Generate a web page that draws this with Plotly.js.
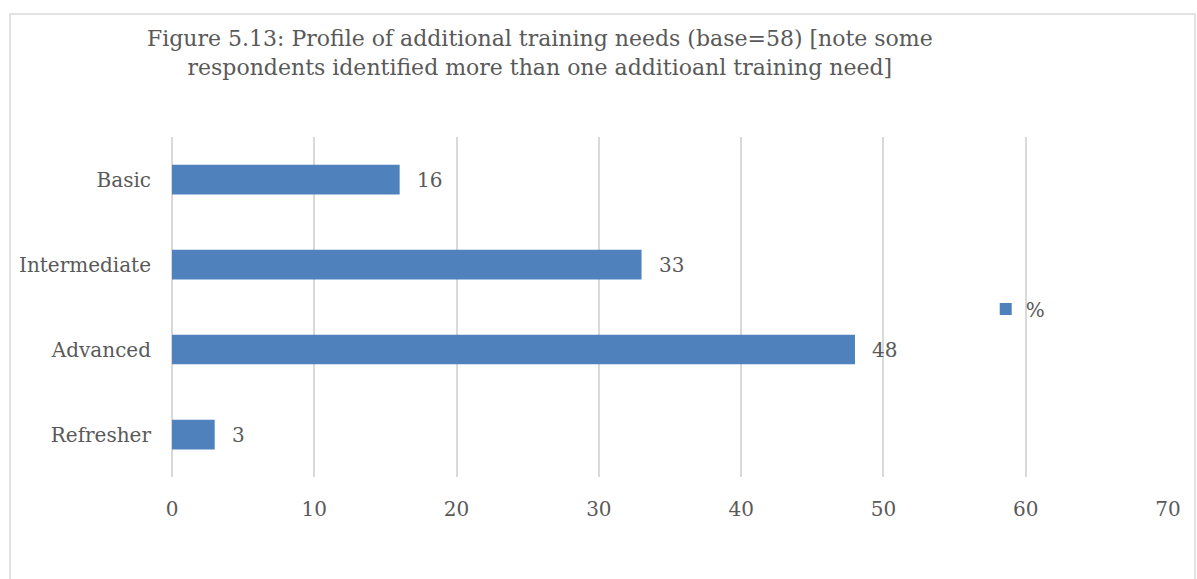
<!DOCTYPE html>
<html>
<head>
<meta charset="utf-8">
<script src="https://cdn.plot.ly/plotly-3.0.1.min.js"></script>
<style>html,body{margin:0;padding:0;background:#fff;}#chart{width:1197px;height:579px;}</style>
</head>
<body>
<div id="chart"></div>
<script>
const categories = ["Basic", "Intermediate", "Advanced", "Refresher"];
const values = [16, 33, 48, 3];
const seriesName = "%";
const xTicks = [0, 10, 20, 30, 40, 50, 60, 70];
const titleText = "Figure 5.13: Profile of additional training needs (base=58) [note some<br>respondents identified more than one additioanl training need]";

const font = "DejaVu Serif, Liberation Serif, serif";
const textColor = "#595959";

const trace = {
  type: "bar",
  orientation: "h",
  y: categories,
  x: values,
  name: seriesName,
  marker: {color: "#4F81BD"},
  hoverinfo: "x+y"
};

const annotations = categories.map((c, i) => ({
  x: values[i], y: c, xref: "x", yref: "y",
  text: String(values[i]), showarrow: false,
  xanchor: "left", yanchor: "middle", xshift: 15,
  font: {family: font, size: 20, color: textColor}
}));

const layout = {
  width: 1197, height: 579,
  margin: {l: 172, r: 29, t: 137, b: 102},
  paper_bgcolor: "#fff", plot_bgcolor: "#fff",
  font: {family: font, size: 20, color: textColor},
  title: {
    text: titleText,
    font: {family: font, size: 22, color: textColor},
    xref: "container", yref: "container",
    x: 0.451, xanchor: "center",
    y: 0.92, yanchor: "top"
  },
  bargap: 0.65,
  xaxis: {
    range: [0, 70],
    tickvals: xTicks,
    showgrid: true, gridcolor: "#d9d9d9", gridwidth: 1.5,
    zeroline: true, zerolinecolor: "#d9d9d9", zerolinewidth: 1.5,
    showline: false,
    ticks: "", ticklabelstandoff: 18,
    tickfont: {family: font, size: 20, color: textColor},
    fixedrange: true
  },
  yaxis: {
    type: "category",
    categoryorder: "array", categoryarray: categories,
    autorange: "reversed",
    showgrid: false, zeroline: false, showline: false,
    ticks: "", ticklabelstandoff: 20,
    tickfont: {family: font, size: 20, color: textColor},
    fixedrange: true
  },
  showlegend: true,
  legend: {
    x: 0.817, y: 0.494, xanchor: "left", yanchor: "middle",
    bgcolor: "rgba(0,0,0,0)",
    font: {family: font, size: 20, color: textColor},
    itemwidth: 30
  },
  annotations: annotations,
  shapes: [{
    type: "rect", xref: "paper", yref: "paper",
    x0: (10 - 172) / 996, x1: (1195 - 172) / 996,
    y0: -0.5, y1: (477 - 14) / 340,
    line: {color: "#d9d9d9", width: 1.5},
    fillcolor: "rgba(0,0,0,0)", layer: "below"
  }]
};

Plotly.newPlot("chart", [trace], layout, {displayModeBar: false});
</script>
</body>
</html>
